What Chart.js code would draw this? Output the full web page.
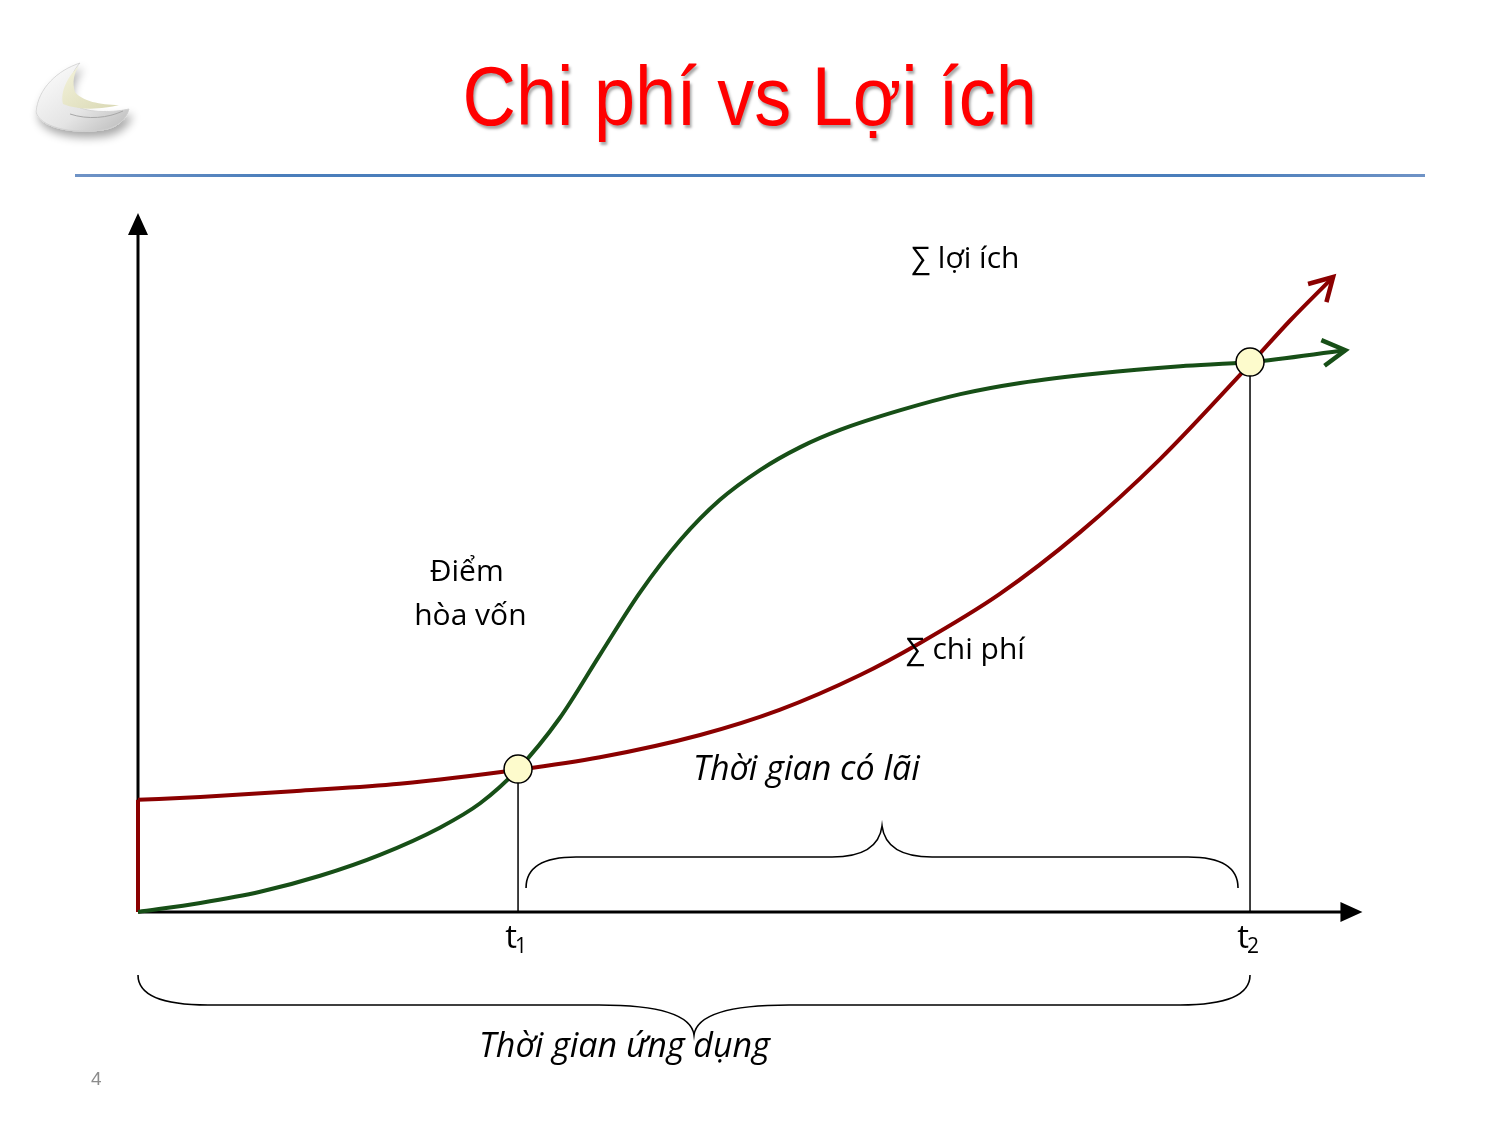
<!DOCTYPE html>
<html>
<head>
<meta charset="utf-8">
<script src="https://cdn.jsdelivr.net/npm/chart.js@4.4.0/dist/chart.umd.min.js"></script>
<style>
  body { margin: 0; background: #fff; width: 1499px; height: 1124px; overflow: hidden; position: relative; }
  #title { position: absolute; left: 0; top: 54px; width: 1499px; text-align: center;
           font-family: "Liberation Sans", Arial, sans-serif; font-size: 84px; line-height: 1;
           color: #ff0000; text-shadow: 2px 3px 3px rgba(0,0,0,0.35); z-index: 2;
           transform: scaleX(0.88); transform-origin: 751px 0; }
  #rule { position: absolute; left: 75px; top: 174px; width: 1350px; height: 3px;
          background: linear-gradient(to right, #6f93c6, #4a7ebb 15%, #4a7ebb 85%, #6f93c6); }
  #page { position: absolute; left: 91px; top: 1069px; font-family: "Liberation Sans", Arial, sans-serif;
          font-size: 19px; line-height: 19px; color: #8c8c8c; }
  #logo { position: absolute; left: 0; top: 0; }
  canvas { position: absolute; left: 0; top: 0; }
</style>
</head>
<body>
<canvas id="chart" width="1499" height="1124"></canvas>
<svg id="logo" width="200" height="160">
  <defs>
    <linearGradient id="lg1" x1="0" y1="0" x2="1" y2="1">
      <stop offset="0" stop-color="#ffffff"/>
      <stop offset="0.6" stop-color="#e4e4e4"/>
      <stop offset="1" stop-color="#b9b9b9"/>
    </linearGradient>
    <linearGradient id="lg2" x1="0" y1="0" x2="1" y2="1">
      <stop offset="0" stop-color="#f4f3dc"/>
      <stop offset="1" stop-color="#d9d8b4"/>
    </linearGradient>
    <filter id="sh" x="-30%" y="-30%" width="160%" height="160%">
      <feGaussianBlur in="SourceAlpha" stdDeviation="5"/>
      <feOffset dx="3" dy="6"/>
      <feComponentTransfer><feFuncA type="linear" slope="0.35"/></feComponentTransfer>
      <feMerge><feMergeNode/><feMergeNode in="SourceGraphic"/></feMerge>
    </filter>
  </defs>
  <path filter="url(#sh)" fill="url(#lg1)" stroke="#cfcfcf" stroke-width="0.8"
        d="M80,63 C58,70 38,88 36,112 C40,127 70,134 102,130 C117,128 127,119 129,109 C110,113 86,113 72,104 C66,90 70,74 80,63 Z"/>
  <path fill="url(#lg2)" d="M79,66 C68,76 60,91 63,104 C80,111 104,109 119,105 C100,105 82,101 75,92 C72,82 74,73 79,66 Z"/>
  <path fill="none" stroke="#a8a8a8" stroke-width="1" d="M70,114 C88,120 108,118 123,111"/>
</svg>
<div id="title">Chi phí vs Lợi ích</div>
<div id="rule"></div>
<div id="page">4</div>
<script>
// benefit curve (∑ lợi ích)
const benefitX = [0, 5.1, 10, 14.9, 19.8, 24.7, 28, 31.1, 34.5, 37.8, 41.1, 44.4, 47.6, 50.9, 54.2, 57.5, 62.4, 67.3, 72.2, 78.7, 85.3, 91, 98.8];
const benefitY = [0, 1.3, 2.9, 5.2, 8.2, 12.1, 15.6, 20.5, 27.8, 36.9, 45.9, 53.4, 59.1, 63.4, 66.7, 69.2, 72, 74.3, 75.9, 77.3, 78.3, 78.9, 80.6];

// cost curve (∑ chi phí), starts with the initial jump at time 0
const costStartX = [0, 0];
const costStartY = [0, 16.1];
const costX = [0, 5.1, 13.3, 21.4, 31.1, 37.8, 46, 52.5, 59.1, 64, 70.5, 77.1, 83.6, 91, 94.3, 97.8];
const costY = [16.1, 16.5, 17.4, 18.4, 20.4, 22.2, 25.4, 29, 34, 38.6, 45.6, 54.5, 64.9, 78.6, 84.9, 91.1];

// break-even points and their tick labels
const breakX = [31.1, 91];
const breakY = [20.5, 78.9];
const tickLabels = ['t', 't'];
const tickSubs = ['1', '2'];

// annotation texts (data coords)
const notes = [
  { text: '∑ lợi ích', x: 67.7, y: 92.4, italic: false },
  { text: 'Điểm', x: 26.9, y: 47.5, italic: false },
  { text: 'hòa vốn', x: 27.2, y: 41.2, italic: false },
  { text: '∑ chi phí', x: 67.7, y: 36.3, italic: false },
  { text: 'Thời gian có lãi', x: 54.7, y: 18.9, italic: true },
  { text: 'Thời gian ứng dụng', x: 39.8, y: -20.8, italic: true }
];

const GREEN = '#174f17';
const RED = '#8b0000';
const FONT = '"Open Sans", "Noto Sans", sans-serif';

const toPoints = (xs, ys) => xs.map((x, i) => ({ x: x, y: ys[i] }));

function brace(ctx, x1, x2, yEnd, dir, h, r1, r2) {
  const mid = (x1 + x2) / 2;
  const yFlat = yEnd + dir * h;
  const yTip = yFlat + dir * h;
  ctx.beginPath();
  ctx.moveTo(x1, yEnd);
  ctx.quadraticCurveTo(x1, yFlat, x1 + r1, yFlat);
  ctx.lineTo(mid - r2, yFlat);
  ctx.quadraticCurveTo(mid - 4, yFlat, mid, yTip);
  ctx.quadraticCurveTo(mid + 4, yFlat, mid + r2, yFlat);
  ctx.lineTo(x2 - r1, yFlat);
  ctx.quadraticCurveTo(x2, yFlat, x2, yEnd);
  ctx.stroke();
}

function chevron(ctx, meta, color) {
  const pts = meta.data;
  const a = pts[pts.length - 2], b = pts[pts.length - 1];
  const ang = Math.atan2(b.y - a.y, b.x - a.x);
  const len = 26, spread = 0.52;
  ctx.save();
  ctx.strokeStyle = color;
  ctx.lineWidth = 4.5;
  ctx.lineJoin = 'miter';
  ctx.beginPath();
  ctx.moveTo(b.x - len * Math.cos(ang - spread), b.y - len * Math.sin(ang - spread));
  ctx.lineTo(b.x, b.y);
  ctx.lineTo(b.x - len * Math.cos(ang + spread), b.y - len * Math.sin(ang + spread));
  ctx.stroke();
  ctx.restore();
}

const decorations = {
  id: 'decorations',
  beforeDatasetsDraw(chart) {
    const ctx = chart.ctx;
    const xs = chart.scales.x, ys = chart.scales.y;
    const x0 = xs.getPixelForValue(0), y0 = ys.getPixelForValue(0);
    const xEnd = xs.getPixelForValue(100.2), yEnd = ys.getPixelForValue(100.3);
    ctx.save();
    ctx.fillStyle = '#000';
    ctx.strokeStyle = '#000';
    // axes
    ctx.lineWidth = 3;
    ctx.beginPath();
    ctx.moveTo(x0, y0); ctx.lineTo(xEnd - 20, y0);
    ctx.moveTo(x0, y0); ctx.lineTo(x0, yEnd + 20);
    ctx.stroke();
    ctx.beginPath();
    ctx.moveTo(xEnd, y0); ctx.lineTo(xEnd - 22, y0 - 10); ctx.lineTo(xEnd - 22, y0 + 10); ctx.closePath();
    ctx.moveTo(x0, yEnd); ctx.lineTo(x0 - 10, yEnd + 22); ctx.lineTo(x0 + 10, yEnd + 22); ctx.closePath();
    ctx.fill();
    // drop lines from the break-even points
    ctx.lineWidth = 1.5;
    breakX.forEach((bx, i) => {
      const px = xs.getPixelForValue(bx);
      ctx.beginPath();
      ctx.moveTo(px, ys.getPixelForValue(breakY[i]));
      ctx.lineTo(px, y0);
      ctx.stroke();
    });
    ctx.restore();
  },
  afterDatasetsDraw(chart) {
    const ctx = chart.ctx;
    const xs = chart.scales.x, ys = chart.scales.y;
    const y0 = ys.getPixelForValue(0);
    chevron(ctx, chart.getDatasetMeta(1), GREEN);
    chevron(ctx, chart.getDatasetMeta(2), RED);

    ctx.save();
    ctx.strokeStyle = '#000';
    ctx.lineWidth = 1.6;
    // profit period brace (between t1 and t2)
    brace(ctx, xs.getPixelForValue(breakX[0]) + 8, xs.getPixelForValue(breakX[1]) - 12, y0 - 24, -1, 31, 50, 50);
    // application period brace (whole span, below the axis)
    brace(ctx, xs.getPixelForValue(0), xs.getPixelForValue(breakX[1]), y0 + 63, 1, 30, 70, 95);

    ctx.fillStyle = '#000';
    ctx.textAlign = 'center';
    ctx.textBaseline = 'alphabetic';
    notes.forEach(n => {
      ctx.font = (n.italic ? 'italic 34px ' : '30px ') + FONT;
      ctx.fillText(n.text, xs.getPixelForValue(n.x), ys.getPixelForValue(n.y));
    });
    // t1, t2 tick labels
    breakX.forEach((bx, i) => {
      const px = xs.getPixelForValue(bx);
      ctx.textAlign = 'right';
      ctx.font = '33px ' + FONT;
      ctx.fillText(tickLabels[i], px - 1, y0 + 36);
      ctx.textAlign = 'left';
      ctx.font = '21px ' + FONT;
      ctx.fillText(tickSubs[i], px - 3, y0 + 41);
    });
    ctx.restore();
  }
};

new Chart(document.getElementById('chart'), {
  type: 'line',
  data: {
    datasets: [
      {
        label: 'Điểm hòa vốn',
        data: toPoints(breakX, breakY),
        showLine: false,
        pointRadius: 14,
        pointBackgroundColor: '#fdfbcc',
        pointBorderColor: '#000',
        pointBorderWidth: 1.5
      },
      {
        label: '∑ lợi ích',
        data: toPoints(benefitX, benefitY),
        borderColor: GREEN,
        borderWidth: 4,
        pointRadius: 0,
        cubicInterpolationMode: 'monotone'
      },
      {
        label: '∑ chi phí',
        data: toPoints(costX, costY),
        borderColor: RED,
        borderWidth: 4,
        pointRadius: 0,
        cubicInterpolationMode: 'monotone'
      },
      {
        label: '∑ chi phí (ban đầu)',
        data: toPoints(costStartX, costStartY),
        borderColor: RED,
        borderWidth: 4,
        pointRadius: 0,
        tension: 0
      }
    ]
  },
  options: {
    responsive: false,
    animation: false,
    events: [],
    clip: false,
    layout: { padding: { left: 138, right: 139, top: 215, bottom: 212 } },
    scales: {
      x: { type: 'linear', min: 0, max: 100, display: false },
      y: { type: 'linear', min: 0, max: 100, display: false }
    },
    plugins: { legend: { display: false }, tooltip: { enabled: false } }
  },
  plugins: [decorations]
});
</script>
</body>
</html>
